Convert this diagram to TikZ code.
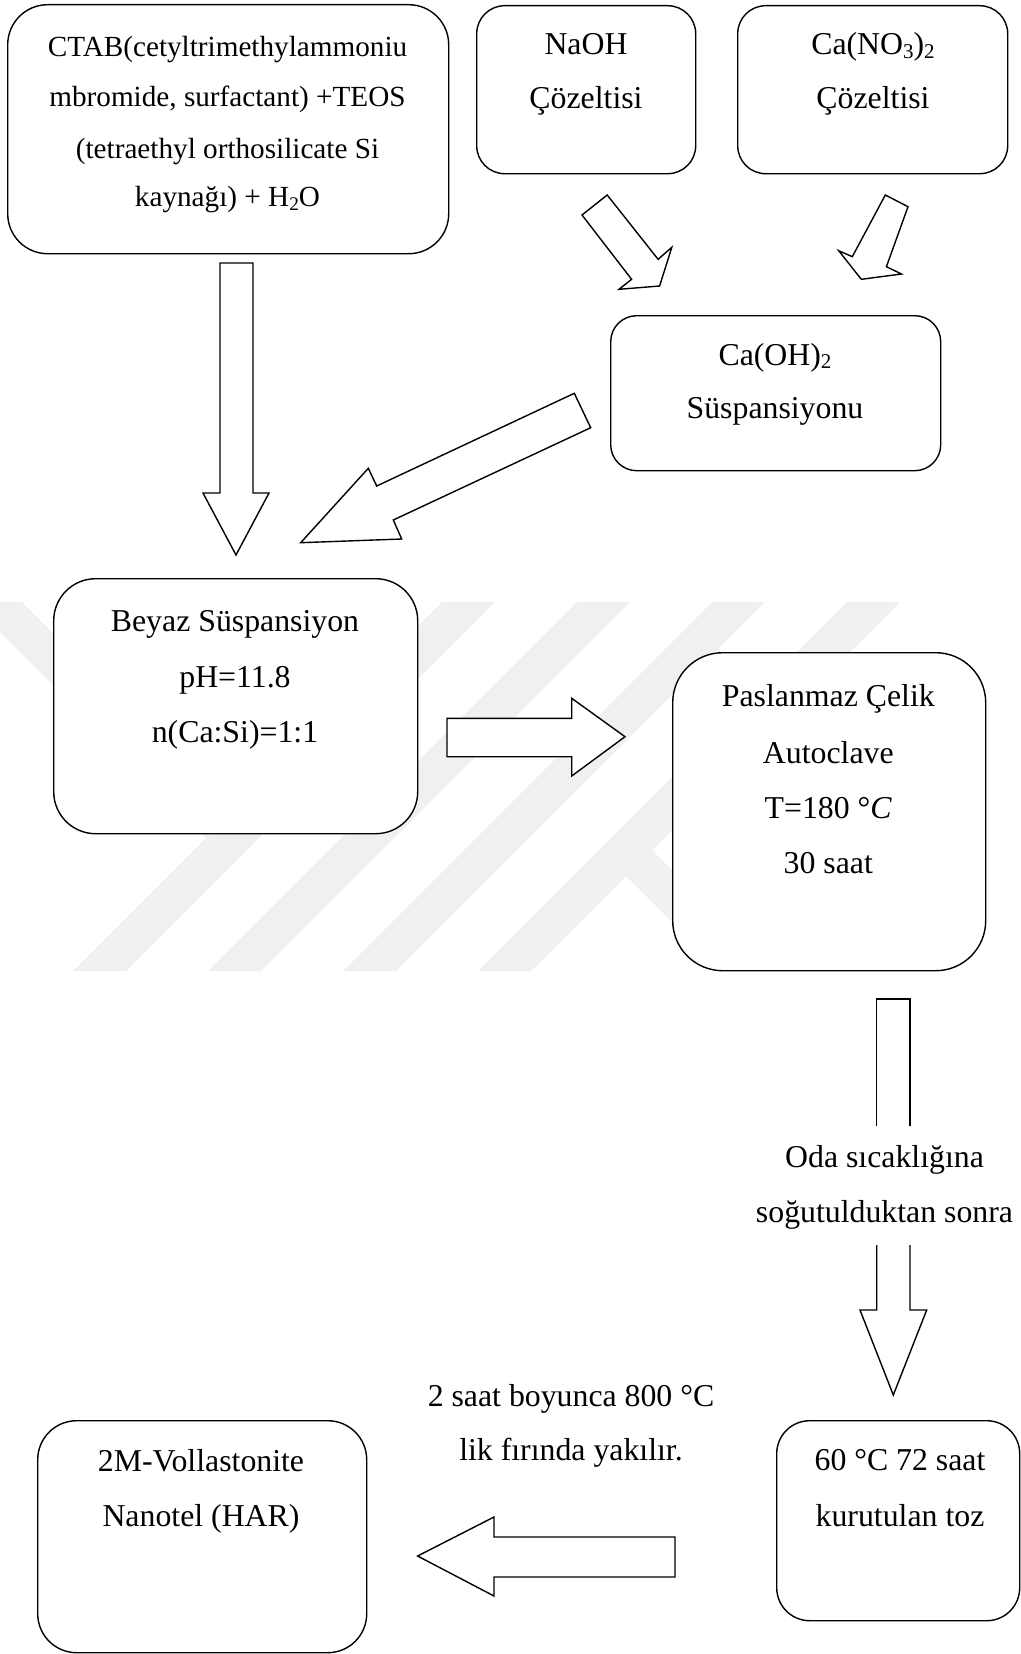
\documentclass[tikz,border=0pt]{standalone}
\usepackage{fontspec}
\setmainfont{Liberation Serif}
\newcommand{\sbig}[1]{\raisebox{-0.12em}{\fontsize{21}{21}\selectfont #1}}
\newcommand{\ssml}[1]{\raisebox{-0.12em}{\fontsize{19.3}{19.3}\selectfont #1}}
\begin{document}
\begin{tikzpicture}[x=1pt,y=-1pt,
  box/.style={draw=black, line width=1.4pt, fill=white, shape=rectangle, anchor=north west, inner sep=0pt},
  blk/.style={draw=black, line width=1.4pt, fill=white, line join=miter},
  wm/.style={fill=black!6, draw=none},
  txt/.style={inner sep=0pt, anchor=base, font=\fontsize{31.8}{38}\selectfont},
  txts/.style={inner sep=0pt, anchor=base, font=\fontsize{29.2}{35}\selectfont}]
\useasboundingbox (0,0) rectangle (1020,1654);
% watermark
\begin{scope}
\clip (0,0) rectangle (1020,1654);
\foreach \k in {0,1,2,3} {
  \fill[wm] ({73+135*\k},971) -- ({126+135*\k},971) -- ({495+135*\k},602) -- ({442+135*\k},602) -- cycle;
}
\fill[wm] (-30,602) -- (22,602) -- (232,812) -- (206,838) -- cycle;
\fill[wm] (600,850) -- (652,850) -- (773,971) -- (721,971) -- cycle;
\end{scope}
% boxes
\node[box, rounded corners=40pt, minimum width=441pt, minimum height=249pt] (ctab) at (7,4) {};
\node[box, rounded corners=28pt, minimum width=219pt, minimum height=168pt] (naoh) at (476,5) {};
\node[box, rounded corners=28pt, minimum width=270pt, minimum height=168pt] (cano) at (737,5) {};
\node[box, rounded corners=26pt, minimum width=330pt, minimum height=155pt] (caoh) at (610,315) {};
\node[box, rounded corners=42pt, minimum width=364pt, minimum height=255pt] (beyaz) at (53,578) {};
\node[box, rounded corners=50pt, minimum width=313pt, minimum height=318pt] (pas) at (672,652) {};
\node[box, rounded corners=33pt, minimum width=243pt, minimum height=200pt] (kur) at (776,1420) {};
\node[box, rounded corners=39pt, minimum width=329pt, minimum height=232pt] (vol) at (37,1420) {};
% block arrows
\draw[blk] (220,263) -- (253,263) -- (253,493) -- (269,493) -- (236,555) -- (203,493) -- (220,493) -- cycle;
\draw[blk] (607.2,195) -- (658.1,259.3) -- (671.8,247.3) -- (659.6,286) -- (619,289.3) -- (631.6,279.3) -- (582,215) -- cycle;
\draw[blk] (885.3,195) -- (908,206.7) -- (886.4,266.7) -- (901.5,274) -- (861.3,279.3) -- (838.7,250.7) -- (852.3,256.7) -- cycle;
\draw[blk] (574.3,393.3) -- (590.7,427.7) -- (393.3,520) -- (401.7,539) -- (300.7,542.7) -- (368.3,468.3) -- (376.7,486) -- cycle;
\draw[blk] (447,718.3) -- (571.7,718.3) -- (571.7,698.3) -- (625,736.7) -- (571.7,776) -- (571.7,756.7) -- (447,756.7) -- cycle;
\draw[blk] (876.7,1126) -- (876.7,999) -- (910,999) -- (910,1126);
\draw[blk] (876.7,1245) -- (876.7,1310) -- (860,1310) -- (893.3,1395) -- (926.7,1310) -- (910,1310) -- (910,1245);
\draw[blk] (675,1537) -- (494,1537) -- (494,1517) -- (417.6,1556) -- (494,1596) -- (494,1577) -- (675,1577) -- cycle;
% texts
\node[txts] (t1a) at (227.5,56.5) {CTAB(cetyltrimethylammoniu};
\node[txts] (t1b) at (227.5,106.5) {mbromide, surfactant) +TEOS};
\node[txts] (t1c) at (227.5,158) {(tetraethyl orthosilicate Si};
\node[txts] (t1d) at (227.5,206.5) {kaynağı) + H\ssml{2}O};
\node[txt] (t2a) at (586,55) {NaOH};
\node[txt] (t2b) at (586,108.3) {Çözeltisi};
\node[txt] (t3a) at (873,55) {Ca(NO\sbig{3})\sbig{2}};
\node[txt] (t3b) at (873,108.3) {Çözeltisi};
\node[txt] (t4a) at (775,365) {Ca(OH)\sbig{2}};
\node[txt] (t4b) at (775,418.3) {Süspansiyonu};
\node[txt] (t5a) at (235,631) {Beyaz Süspansiyon};
\node[txt] (t5b) at (235,687) {pH=11.8};
\node[txt] (t5c) at (235,742) {n(Ca:Si)=1:1};
\node[txt] (t6a) at (828.3,706.7) {Paslanmaz Çelik};
\node[txt] (t6b) at (828.3,763.3) {Autoclave};
\node[txt] (t6c) at (828.3,818.3) {T=180 °\textit{C}};
\node[txt] (t6d) at (828.3,873.3) {30 saat};
\node[txt] (t7a) at (884.5,1167) {Oda sıcaklığına};
\node[txt] (t7b) at (884.5,1222) {soğutulduktan sonra};
\node[txt] (t8a) at (900,1470) {60 °C 72 saat};
\node[txt] (t8b) at (900,1526) {kurutulan toz};
\node[txt] (t9a) at (571,1406) {2 saat boyunca 800 °C};
\node[txt] (t9b) at (571,1460) {lik fırında yakılır.};
\node[txt] (t10a) at (201,1471.7) {2M-Vollastonite};
\node[txt] (t10b) at (201,1526.7) {Nanotel (HAR)};
\end{tikzpicture}
\end{document}
